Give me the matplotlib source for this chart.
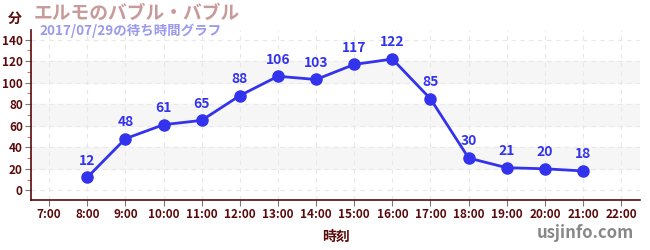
import numpy as np
import matplotlib.pyplot as plt
from matplotlib.ticker import MultipleLocator

plt.rcParams['font.family'] = ['Noto Sans CJK JP', 'DejaVu Sans']

hours = [8, 9, 10, 11, 12, 13, 14, 15, 16, 17, 18, 19, 20, 21]
waits = [12, 48, 61, 65, 88, 106, 103, 117, 122, 85, 30, 21, 20, 18]
tick_hours = list(range(7, 23))
tick_labels = [f"{h}:00" for h in tick_hours]

maroon = '#5a0a0a'
blue = '#3333ee'

fig = plt.figure(figsize=(6.5, 2.5), dpi=100)
ax = fig.add_axes([0.048, 0.2, 0.937, 0.68])

# bandas cinza alternadas
for y0 in (20, 60, 100):
    ax.axhspan(y0, y0 + 20, color='#f6f6f6', zorder=0)

ax.plot(hours, waits, '-', color=blue, lw=2, marker='o', ms=8, zorder=3)
for h, w in zip(hours, waits):
    ax.annotate(str(w), (h, w), xytext=(0, 7), textcoords='offset points',
                ha='center', va='bottom', color=blue, fontsize=10,
                fontweight='bold', zorder=4)

ax.set_xlim(6.53, 22.5)
ax.set_ylim(-9, 149)
ax.set_xticks(tick_hours)
ax.set_xticklabels(tick_labels)
ax.yaxis.set_major_locator(MultipleLocator(20))
ax.yaxis.set_minor_locator(MultipleLocator(10))

ax.grid(True, which='major', color='#e8e8e8', ls=(0, (4, 4)), lw=0.8, zorder=1)
ax.set_axisbelow(True)

for s in ('top', 'right'):
    ax.spines[s].set_visible(False)
for s in ('left', 'bottom'):
    ax.spines[s].set_color(maroon)
    ax.spines[s].set_linewidth(1.2)

ax.tick_params(axis='both', which='major', color='#777777', length=4,
               labelcolor=maroon, labelsize=8.5, pad=2)
ax.tick_params(axis='y', which='minor', color='#ee4444', length=3)
for lbl in ax.get_xticklabels() + ax.get_yticklabels():
    lbl.set_fontweight('bold')

ax.set_xlabel('時刻', color=maroon, fontsize=10, fontweight='bold', labelpad=6)

fig.text(0.012, 0.925, '分', color=maroon, fontsize=10, fontweight='bold',
         ha='left', va='center')
fig.text(0.052, 0.945, 'エルモのバブル・バブル', color='#c89a9a', fontsize=13.5,
         fontweight='bold', ha='left', va='center')
fig.text(0.060, 0.875, '2017/07/29の待ち時間グラフ', color='#9999ee', fontsize=9.7,
         fontweight='bold', ha='left', va='center')
fig.text(0.975, 0.07, 'usjinfo.com', color='#888888', fontsize=12,
         fontweight='bold', ha='right', va='center')

fig.savefig('out.png', dpi=100)
